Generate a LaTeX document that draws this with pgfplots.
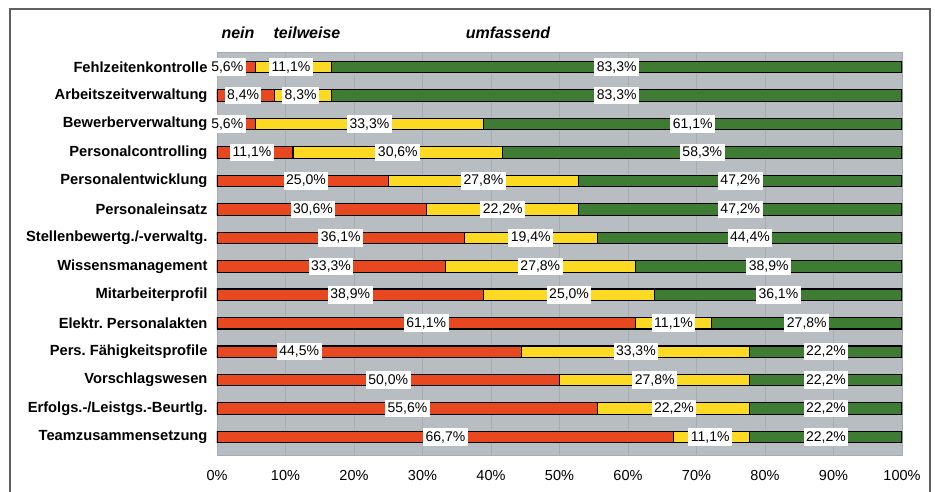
\documentclass[border=0pt]{standalone}
\usepackage{pgfplots}
\usepackage{pgfplotstable}
\usepackage{fontspec}
\setmainfont{Liberation Sans}
\pgfplotsset{compat=1.18}
\definecolor{bggray}{RGB}{184,189,194}
\definecolor{gridgray}{RGB}{166,172,178}
\definecolor{cnein}{RGB}{232,72,32}
\definecolor{cteil}{RGB}{252,218,36}
\definecolor{cumf}{RGB}{62,124,52}
\definecolor{framegray}{RGB}{95,95,95}

\pgfplotstableread{
y nein teil umf
0 5.6 11.1 83.3
1 8.4 8.3 83.3
2 5.6 33.3 61.1
3 11.1 30.6 58.3
4 25.0 27.8 47.2
5 30.6 22.2 47.2
6 36.1 19.4 44.5
7 33.3 27.8 38.9
8 38.9 25.0 36.1
9 61.1 11.1 27.8
10 44.5 33.3 22.2
11 50.0 27.8 22.2
12 55.6 22.2 22.2
13 66.7 11.1 22.2
}\data

\pgfplotstableread{
y x v
0 1.5 5.6
0 10.8 11.1
0 58.35 83.3
1 3.8 8.4
1 12.2 8.3
1 58.35 83.3
2 1.5 5.6
2 22.25 33.3
2 69.45 61.1
3 5.1 11.1
3 26.4 30.6
3 70.85 58.3
4 13.0 25.0
4 38.9 27.8
4 76.4 47.2
5 14.0 30.6
5 41.7 22.2
5 76.4 47.2
6 18.05 36.1
6 45.8 19.4
6 77.8 44.4
7 16.65 33.3
7 47.2 27.8
7 80.55 38.9
8 19.45 38.9
8 51.4 25.0
8 81.95 36.1
9 30.55 61.1
9 66.65 11.1
9 86.1 27.8
10 12.0 44.5
10 61.15 33.3
10 88.9 22.2
11 25.0 50.0
11 63.9 27.8
11 88.9 22.2
12 27.8 55.6
12 66.7 22.2
12 88.9 22.2
13 33.35 66.7
13 72.0 11.1
13 88.9 22.2
}\labels

\pgfplotsset{
  geom/.style={
    scale only axis,
    width=685pt, height=403pt,
    at={(217pt,-52pt)}, anchor=north west,
    xmin=0, xmax=100,
    ymin=-0.53, ymax=13.63,
    y dir=reverse,
  }
}

\begin{document}
\begin{tikzpicture}[x=1pt,y=1pt]
\path[use as bounding box] (0,0) rectangle (935,-491);
\begin{axis}[
  geom,
  xbar stacked,
  bar width=11.5pt,
  axis background/.style={fill=bggray},
  axis line style={gridgray},
  xmajorgrids, grid style={gridgray, line width=0.8pt},
  major tick length=0pt,
  xtick={0,10,...,100},
  xticklabel={\pgfmathprintnumber{\tick}\%},
  xticklabel style={font=\fontsize{14.5}{16}\selectfont, yshift=-12pt},
  ytick={0,...,13},
  yticklabels={Fehlzeitenkontrolle, Arbeitszeitverwaltung, Bewerberverwaltung, Personalcontrolling, Personalentwicklung, Personaleinsatz, Stellenbewertg./-verwaltg., Wissensmanagement, Mitarbeiterprofil, Elektr.\ Personalakten, Pers.\ Fähigkeitsprofile, Vorschlagswesen, Erfolgs.-/Leistgs.-Beurtlg., Teamzusammensetzung},
  yticklabel style={font=\bfseries\fontsize{14.7}{16}\selectfont, xshift=-6pt},
  /pgf/number format/assume math mode=true,
]
\addplot[fill=cnein, draw=black, line width=1.1pt] table[x=nein, y=y] {\data};
\addplot[fill=cteil, draw=black, line width=1.1pt] table[x=teil, y=y] {\data};
\addplot[fill=cumf, draw=black, line width=1.1pt] table[x=umf, y=y] {\data};
\end{axis}
\begin{axis}[
  geom,
  hide axis,
  /pgf/number format/assume math mode=true,
]
\addplot[only marks, mark=none,
  point meta=explicit,
  nodes near coords={\pgfmathprintnumber[fixed,fixed zerofill,precision=1,use comma]{\pgfplotspointmeta}\%},
  every node near coord/.append style={anchor=center, fill=white, inner xsep=2.5pt, inner ysep=3pt, font=\fontsize{14}{15}\selectfont},
] table[x=x, y=y, meta=v] {\labels};
\end{axis}
\node[font=\bfseries\itshape\fontsize{16}{18}\selectfont] at (238,-33) {nein};
\node[font=\bfseries\itshape\fontsize{16}{18}\selectfont] at (307,-33) {teilweise};
\node[font=\bfseries\itshape\fontsize{16}{18}\selectfont] at (508,-33) {umfassend};
\draw[framegray, line width=2pt] (10,-600) -- (10,-9) -- (930,-9) -- (930,-600);
\end{tikzpicture}
\end{document}
